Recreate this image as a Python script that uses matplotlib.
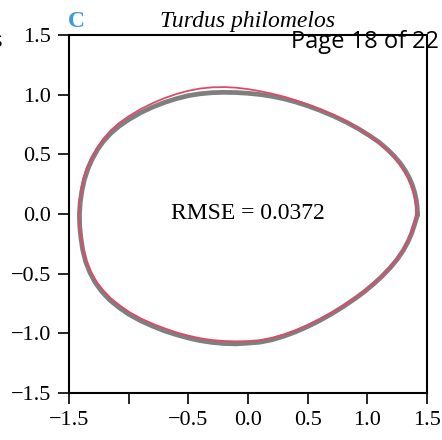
import matplotlib
matplotlib.use('Agg')
import matplotlib.pyplot as plt

# Egg outline of Turdus philomelos (normalised), traced points, counter-clockwise
# starting at the pointed end
outline_x = [1.42, 1.418, 1.41, 1.397, 1.378, 1.353, 1.32, 1.28, 1.23, 1.17, 1.10, 1.02,
             0.93, 0.83, 0.72, 0.60, 0.50, 0.40, 0.30, 0.20, 0.10, 0.00,
             -0.10, -0.20, -0.30, -0.40, -0.50, -0.60, -0.70, -0.80, -0.90, -1.00,
             -1.08, -1.15, -1.21, -1.26, -1.305, -1.34, -1.37, -1.39, -1.405, -1.412,
             -1.41, -1.40, -1.385, -1.36, -1.325, -1.28, -1.225, -1.16, -1.08, -1.00,
             -0.90, -0.80, -0.70, -0.60, -0.50, -0.40, -0.30, -0.20, -0.10, 0.00,
             0.10, 0.20, 0.30, 0.40, 0.50, 0.60, 0.70, 0.80, 0.90, 0.97,
             1.05, 1.12, 1.19, 1.25, 1.30, 1.34, 1.37, 1.395, 1.411, 1.418, 1.42]
outline_y = [0.00, 0.06, 0.12, 0.18, 0.24, 0.30, 0.36, 0.42, 0.48, 0.54, 0.60, 0.655,
             0.711, 0.766, 0.819, 0.869, 0.906, 0.938, 0.965, 0.986, 1.001, 1.011,
             1.017, 1.019, 1.016, 1.007, 0.991, 0.966, 0.934, 0.895, 0.848, 0.79,
             0.735, 0.675, 0.61, 0.54, 0.46, 0.38, 0.29, 0.20, 0.10, 0.00,
             -0.10, -0.20, -0.30, -0.40, -0.49, -0.575, -0.65, -0.72, -0.785, -0.84,
             -0.895, -0.94, -0.98, -1.012, -1.04, -1.062, -1.077, -1.086, -1.089, -1.083,
             -1.075, -1.055, -1.025, -0.988, -0.944, -0.894, -0.838, -0.776, -0.708, -0.656,
             -0.59, -0.526, -0.453, -0.381, -0.308, -0.236, -0.167, -0.092, -0.04, -0.015, 0.00]

# Fitted egg model
fit_x = [1.41, 1.408, 1.40, 1.386, 1.366, 1.341, 1.307, 1.267, 1.218, 1.16, 1.092, 1.013,
         0.93, 0.83, 0.72, 0.60, 0.50, 0.40, 0.30, 0.20, 0.10, 0.00,
         -0.10, -0.20, -0.30, -0.40, -0.50, -0.60, -0.70, -0.80, -0.90, -1.00,
         -1.08, -1.15, -1.21, -1.26, -1.31, -1.35, -1.38, -1.40, -1.415, -1.42,
         -1.415, -1.402, -1.383, -1.355, -1.318, -1.27, -1.213, -1.148, -1.07, -0.99,
         -0.89, -0.79, -0.69, -0.60, -0.50, -0.40, -0.30, -0.20, -0.10, 0.00,
         0.10, 0.20, 0.30, 0.40, 0.50, 0.60, 0.70, 0.80, 0.90, 0.97,
         1.05, 1.12, 1.19, 1.25, 1.30, 1.34, 1.365, 1.385, 1.401, 1.408, 1.41]
fit_y = [0.00, 0.06, 0.12, 0.18, 0.24, 0.30, 0.36, 0.42, 0.48, 0.54, 0.60, 0.657,
         0.716, 0.772, 0.827, 0.879, 0.918, 0.952, 0.983, 1.008, 1.029, 1.046,
         1.058, 1.063, 1.061, 1.051, 1.032, 1.005, 0.97, 0.928, 0.878, 0.818,
         0.762, 0.70, 0.632, 0.56, 0.475, 0.39, 0.295, 0.20, 0.10, 0.00,
         -0.10, -0.20, -0.30, -0.40, -0.485, -0.568, -0.64, -0.708, -0.77, -0.825,
         -0.88, -0.924, -0.962, -0.993, -1.02, -1.042, -1.057, -1.065, -1.068, -1.066,
         -1.058, -1.038, -1.01, -0.974, -0.931, -0.882, -0.827, -0.766, -0.699, -0.648,
         -0.583, -0.519, -0.446, -0.373, -0.298, -0.222, -0.16, -0.095, -0.045, -0.018, 0.00]

rmse = 0.0372
species = 'Turdus philomelos'
ticks = [-1.5, -1.0, -0.5, 0.0, 0.5, 1.0, 1.5]
xtick_labels = ['\u22121.5', '', '\u22120.5', '0.0', '0.5', '1.0', '1.5']
ytick_labels = ['\u22121.5', '\u22121.0', '\u22120.5', '0.0', '0.5', '1.0', '1.5']

serif = 'Liberation Serif'

fig = plt.figure(figsize=(4.42, 4.40), dpi=100)
ax = fig.add_axes([0.156, 0.107, 0.810, 0.8136])

ax.plot(outline_x, outline_y, '-', color='#7f7f7f', lw=3.4, solid_joinstyle='round', zorder=2)
ax.plot(fit_x, fit_y, '-', color='#e04a68', lw=1.3, solid_joinstyle='round', zorder=3)

ax.text(0.0, 0.0, f'RMSE = {rmse:.4f}', ha='center', va='center',
        fontsize=17, family=serif)

ax.set_xlim(-1.5, 1.5)
ax.set_ylim(-1.5, 1.5)
ax.set_xticks(ticks)
ax.set_xticklabels(xtick_labels)
ax.set_yticks(ticks)
ax.set_yticklabels(ytick_labels)
ax.tick_params(direction='out', length=8, width=1.2, labelsize=16, pad=5)
for lab in ax.get_xticklabels() + ax.get_yticklabels():
    lab.set_family(serif)
for sp in ax.spines.values():
    sp.set_linewidth(1.5)

ax.set_title(species, fontsize=17, style='italic', family=serif, pad=6)

fig.text(68 / 442, 1 - 27 / 440, 'C', ha='left', va='baseline', fontsize=17,
         fontweight='bold', family=serif, color='#3a9be0')
fig.text(439 / 442, 1 - 48 / 440, 'Page 18 of 22', ha='right', va='baseline',
         fontsize=17, family='Open Sans')
fig.text(-0.018, 1 - 47 / 440, 's', ha='left', va='baseline', fontsize=16,
         family='Open Sans')

fig.savefig('out.png', dpi=100)
